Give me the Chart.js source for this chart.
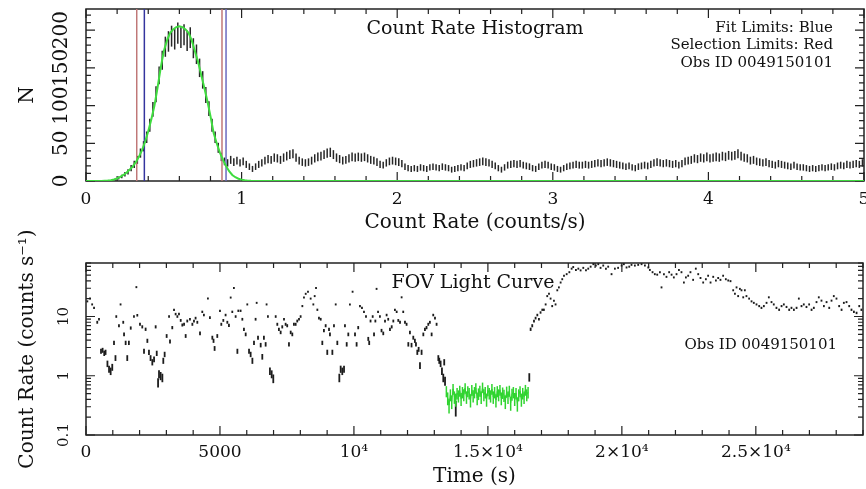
<!DOCTYPE html>
<html>
<head>
<meta charset="utf-8">
<script src="https://cdn.jsdelivr.net/npm/chart.js@4/dist/chart.umd.min.js"></script>
<style>
  html, body { margin: 0; padding: 0; background: #fff; }
  #wrap { position: relative; width: 866px; height: 489px; }
  #wrap canvas { position: absolute; left: 0; top: 0; }
</style>
</head>
<body>
<div id="wrap">
  <canvas id="hist" width="866" height="489"></canvas>
  <canvas id="lc" width="866" height="489"></canvas>
</div>
<script>
// ---------------- Count-rate histogram ----------------
const histBinStart = 0;
const histBinWidth = 0.02;          // counts/s per bin
const histCounts = [
  0,0,0,0,0,0,0,0,1,2,
  4,6,9,12,17,22,28,37,46,58,
  74,95,115,140,160,178,185,192,188,196,
  190,194,186,190,176,168,150,134,114,96,
  74,58,44,32,26,24,28,25,27,24,
  26,22,19,16,19,22,24,27,29,28,
  31,30,28,31,33,35,36,31,27,25,
  24,25,27,30,32,33,35,37,38,35,
  31,29,27,28,30,32,31,32,31,32,
  30,28,27,25,22,21,24,26,27,26,
  25,23,19,17,16,17,16,18,17,16,
  18,19,18,17,19,18,17,15,16,17,
  18,17,20,22,23,24,25,26,25,24,
  22,20,17,15,18,21,22,23,22,23,
  21,20,19,17,16,19,21,22,21,19,
  18,16,15,17,19,20,21,22,21,21,
  22,21,22,23,24,23,24,25,24,23,
  22,21,20,19,20,18,17,19,20,21,
  20,22,24,25,24,23,24,23,22,23,
  21,23,26,27,28,30,29,31,30,32,
  30,31,32,31,33,32,34,33,34,36,
  33,31,30,27,28,26,25,24,25,23,
  22,21,23,22,21,20,19,21,19,18,
  18,17,16,17,16,17,18,17,18,19,
  18,20,21,20,22,21,22,23,22,24
];

// Gaussian fit to the quiescent peak
const fitRate = [
  0, 0.10,0.12,0.14,0.16,0.18,0.20,0.22,0.24,0.26,0.28,
  0.30,0.32,0.34,0.36,0.38,0.40,0.42,0.44,0.46,0.48,
  0.50,0.52,0.54,0.56,0.58,0.60,0.62,0.64,0.66,0.68,
  0.70,0.72,0.74,0.76,0.78,0.80,0.82,0.84,0.86,0.88,
  0.90,0.92,0.94,0.96,0.98,1.00,1.02,1.04,1.06,1.08, 5
];
const fitCounts = [
  0, 0,0.3,0.6,1,2,3.5,5.5,8,11,15,
  19,25,32,41,52,66,82,100,124,150,
  172,186,196,201,204,205,204,201,196,186,
  172,158,141,124,106,86,64,50,38,28,
  20,13,8,5,3,1.8,1,0.5,0.2,0, 0
];

const fitLimits = [0.375, 0.900];
const selectionLimits = [0.326, 0.874];
const histXTicks = [0, 1, 2, 3, 4, 5];
const histYTicks = [0, 50, 100, 150, 200];
const histYMax = 228;

// ---------------- FOV light curve ----------------
const lcBinSeconds = 40;
const lcTime = [
  50,150,230,300,420,485,560,620,680,730,
  800,860,920,980,1045,1100,1130,1230,1290,1390,
  1420,1480,1540,1600,1670,1790,1880,1915,2015,2100,
  2165,2225,2290,2350,2410,2475,2540,2600,2640,2690,
  2725,2785,2850,2885,2935,3010,3100,3135,3220,3285,
  3345,3410,3470,3535,3595,3660,3720,3780,3880,3970,
  4030,4090,4155,4255,4340,4400,4550,4625,4715,4760,
  4800,4900,5000,5050,5125,5210,5275,5335,5400,5460,
  5520,5585,5650,5685,5770,5835,5895,5960,6020,6085,
  6145,6210,6270,6330,6370,6420,6520,6580,6640,6705,
  6740,6790,6865,6930,6990,7080,7140,7200,7265,7325,
  7390,7450,7510,7575,7640,7700,7760,7825,7885,7950,
  8010,8075,8135,8200,8285,8385,8485,8535,8585,8635,
  8695,8760,8820,8880,8945,9005,9070,9105,9195,9255,
  9320,9380,9455,9505,9565,9630,9665,9730,9790,9850,
  9950,10040,10100,10160,10225,10300,10375,10450,10535,10570,
  10620,10700,10750,10800,10845,10900,10970,11030,11095,11160,
  11220,11280,11345,11410,11470,11530,11595,11655,11720,11780,
  11840,11905,11965,12030,12090,12150,12215,12275,12315,12365,
  12415,12465,12525,12590,12650,12710,12775,12835,12900,12960,
  13025,13085,13150,13185,13235,13285,13335,13370,13400,13800,
  16545,16595,16655,16720,16780,16845,16905,16965,17030,17090,
  17155,17215,17280,17340,17400,17465,17525,17590,17650,17715,
  17775,17840,17940,18040,18125,18185,18285,18375,18460,18560,
  18660,18745,18835,18935,19030,19120,19205,19305,19405,19490,
  19615,19740,19860,19990,20075,20175,20275,20360,20485,20610,
  20735,20860,20985,21045,21145,21230,21320,21420,21480,21570,
  21665,21765,21855,21940,22040,22130,22225,22315,22390,22475,
  22560,22660,22760,22850,22935,23035,23135,23220,23310,23410,
  23510,23595,23680,23780,23880,23970,24055,24155,24220,24280,
  24340,24405,24465,24530,24590,24650,24750,24840,24925,25025,
  25125,25210,25300,25400,25485,25585,25670,25770,25870,25960,
  26045,26145,26245,26330,26420,26520,26605,26705,26790,26890,
  26990,27080,27165,27265,27350,27450,27540,27640,27740,27825,
  27910,28010,28110,28200,28285,28385,28485,28570,28660,28760,
  28860,28940
];
const lcRate = [
  18,20,16,14,8,9,2.6,2.7,2.4,2.5,
  1.6,1.3,1.2,1.4,3.6,2.0,10,7,16,8,
  5,3.6,2,3.6,6.4,10,31,10.5,7.4,6.7,
  2.6,6.1,3.9,2.5,2.0,1.7,1.9,6.7,2.4,0.77,
  1.07,1.0,0.93,1.8,2.3,4.7,10,3.8,6.5,13,
  11,10,11,8.6,7.2,7.4,4.7,8.4,9,7.4,
  8.4,9.4,8,5.2,12,10.6,20,9.6,4.4,3.9,
  2.9,4.7,12.5,7.4,8.6,10.6,8,7.1,20.8,12,
  30,10,2.6,12.5,12.5,9,6.1,5,16,2.6,
  2.3,1.8,3.6,9,17,4.4,3.3,2.1,4.4,3.4,
  16,10,1.2,1.07,0.9,10,7.4,6.1,5.4,6.7,
  9,7.4,7,3.4,5.4,5,7.4,7.4,8.4,9,
  10,15,20.8,24,26,20,16,22,30,13,
  9.4,9,3.6,5.8,7,2.5,6.1,5,2.5,7,
  16,3.6,0.93,1.3,1.2,1.3,7,3.4,5,16,
  26,5,3.4,6.5,15,14,12,10,4.2,3.6,
  8.4,10,5,8.4,29,12,10,5.8,5.2,8.4,
  10.6,9,6.1,6.7,8.4,13,12,8.6,8,21,
  12,8,7.4,3.4,5.4,3.3,4.4,3.9,3.4,2.5,
  2.8,1.5,2.5,5,6.1,6.5,7.4,8,5,10.6,
  9.4,7.4,2.0,1.8,1.6,1.2,0.93,1.7,0.82,0.29,
  0.95,6.1,7,8.4,9.4,10.6,9,11.7,13,13,
  16,22,24,20,15,18.5,16,27.5,30.7,37,
  42,48,51,55,63,67,60,63,59,65,
  59,63,68,75,71,75,65,71,63,68,
  51,63,65,71,75,66,68,73,71,73,
  75,71,66,60,55,51,50,55,30.7,51,
  46,55,50,45,51,60,55,37,45,48,
  55,41,63,51,44,37,42,48,37,46,
  40,44,41,48,42,40,39,27.5,24,30.7,
  22,29,27.5,21,27.5,22,20,18,17,16,
  15,14,15,17,21,17.5,16,14,13,15,
  16,14.5,13,14,13,14,20,15,16,14.5,
  16,13,14,17.5,21,18.5,15,17.5,14,18.5,
  22,20,15,13,17,17.5,15,13,12,11.5,
  15,13
];

// low, steady interval (highlighted in green)
const quietTime = [
  13450,13500,13550,13600,13650,13700,13750,13800,13850,13900,
  13950,14000,14050,14100,14150,14200,14250,14300,14350,14400,
  14450,14500,14550,14600,14650,14700,14750,14800,14850,14900,
  14950,15000,15050,15100,15150,15200,15250,15300,15350,15400,
  15450,15500,15550,15600,15650,15700,15750,15800,15850,15900,
  15950,16000,16050,16100,16150,16200,16250,16300,16350,16400,
  16450,16500
];
const quietRate = [
  0.55,0.42,0.32,0.48,0.37,0.60,0.44,0.40,0.51,0.46,
  0.56,0.41,0.53,0.48,0.62,0.44,0.55,0.51,0.39,0.58,
  0.46,0.53,0.62,0.42,0.50,0.56,0.44,0.64,0.48,0.53,
  0.40,0.57,0.51,0.46,0.60,0.44,0.53,0.39,0.55,0.48,
  0.58,0.42,0.52,0.47,0.37,0.54,0.44,0.56,0.35,0.49,
  0.53,0.41,0.51,0.34,0.48,0.55,0.40,0.51,0.44,0.58,
  0.48,0.53
];

const lcXTicks = [0, 5000, 10000, 15000, 20000, 25000];
const lcXTickLabels = ['0', '5000', '10\u2074', '1.5\u00d710\u2074', '2\u00d710\u2074', '2.5\u00d710\u2074'];
const lcYTicks = [0.1, 1, 10];
const lcYTickLabels = ['0.1', '1', '10'];
const lcXMax = 29000;
const lcYMin = 0.1, lcYMax = 80;

// ---------------- drawing ----------------
const FONT = 'DejaVu Serif';
const INK = '#111';
Chart.defaults.font.family = FONT;
Chart.defaults.color = INK;

function steps(a, b, s) {
  const out = [];
  for (let v = a; v <= b + 1e-9; v += s) out.push(+v.toFixed(6));
  return out;
}

// boxed frame with inward major / minor tick marks on all four sides
function framePlugin(spec) {
  return {
    id: 'frame',
    beforeDatasetsDraw(chart) {
      const { ctx, chartArea: a } = chart;
      const xs = chart.scales.x, ys = chart.scales.y;
      ctx.save();
      ctx.strokeStyle = '#222';
      ctx.lineWidth = 1.2;
      ctx.beginPath();
      const mark = (scale, vals, len) => {
        vals.forEach(v => {
          const p = scale.getPixelForValue(v);
          if (scale.isHorizontal()) {
            if (p < a.left - 0.5 || p > a.right + 0.5) return;
            ctx.moveTo(p, a.bottom); ctx.lineTo(p, a.bottom - len);
            ctx.moveTo(p, a.top); ctx.lineTo(p, a.top + len);
          } else {
            if (p < a.top - 0.5 || p > a.bottom + 0.5) return;
            ctx.moveTo(a.left, p); ctx.lineTo(a.left + len, p);
            ctx.moveTo(a.right, p); ctx.lineTo(a.right - len, p);
          }
        });
      };
      mark(xs, spec.xMajor, 9); mark(xs, spec.xMinor, 5);
      mark(ys, spec.yMajor, 9); mark(ys, spec.yMinor, 5);
      ctx.stroke();
      ctx.lineWidth = 1.5;
      ctx.strokeRect(a.left, a.top, a.right - a.left, a.bottom - a.top);
      ctx.restore();
    }
  };
}

// text labels inside the plot frame
function notesPlugin(items) {
  return {
    id: 'notes',
    afterDatasetsDraw(chart) {
      const ctx = chart.ctx;
      ctx.save();
      ctx.fillStyle = INK;
      ctx.textBaseline = 'alphabetic';
      items.forEach(n => {
        ctx.font = n.size + 'px "' + FONT + '"';
        ctx.textAlign = n.align;
        ctx.fillText(n.text, n.x, n.y);
      });
      ctx.restore();
    }
  };
}

const baseOptions = {
  responsive: false,
  animation: false,
  devicePixelRatio: 1,
  events: [],
  plugins: { legend: { display: false }, tooltip: { enabled: false } }
};

// ---- histogram panel ----
const histBars = [];
histCounts.forEach((n, i) => {
  if (n <= 0) return;
  const e = Math.sqrt(n);
  histBars.push({ x: histBinStart + (i + 0.5) * histBinWidth, y: [Math.max(n - e, 0), n + e] });
});
const fitPoints = fitRate.map((r, i) => ({ x: r, y: fitCounts[i] }));
const vline = v => [{ x: v, y: 0 }, { x: v, y: histYMax }];

const histYMinor = steps(0, 220, 10);
new Chart(document.getElementById('hist'), {
  type: 'bar',
  data: {
    datasets: [
      { type: 'line', data: fitPoints, borderColor: '#3fdc3f', borderWidth: 2, pointRadius: 0, tension: 0, order: 0 },
      { type: 'line', data: vline(selectionLimits[0]), borderColor: '#c07878', borderWidth: 1.5, pointRadius: 0, order: 1 },
      { type: 'line', data: vline(selectionLimits[1]), borderColor: '#c07878', borderWidth: 1.5, pointRadius: 0, order: 1 },
      { type: 'line', data: vline(fitLimits[0]), borderColor: '#34349e', borderWidth: 1.5, pointRadius: 0, order: 1 },
      { type: 'line', data: vline(fitLimits[1]), borderColor: '#6a6ac0', borderWidth: 1.5, pointRadius: 0, order: 1 },
      { type: 'bar', data: histBars, backgroundColor: '#262626', barThickness: 1.5, grouped: false, inflateAmount: 0, order: 2 }
    ]
  },
  options: {
    ...baseOptions,
    layout: { padding: { left: 0, top: 9, right: 2, bottom: 248 } },
    scales: {
      x: {
        type: 'linear', min: 0, max: 5, offset: false,
        grid: { display: false, drawTicks: false }, border: { display: false },
        afterBuildTicks: s => { s.ticks = histXTicks.map(v => ({ value: v })); },
        afterFit: s => { s.height = 60; s.paddingLeft = 0; s.paddingRight = 0; },
        ticks: { autoSkip: false, maxRotation: 0, padding: 8, font: { size: 17 }, color: INK, callback: v => String(v) },
        title: { display: true, text: 'Count Rate (counts/s)', font: { size: 20 }, color: INK, padding: { top: 0, bottom: 6 } }
      },
      y: {
        type: 'linear', min: 0, max: histYMax,
        grid: { display: false, drawTicks: false }, border: { display: false },
        afterBuildTicks: s => { s.ticks = histYTicks.map(v => ({ value: v })); },
        afterFit: s => { s.width = 86; s.paddingTop = 0; s.paddingBottom = 0; },
        ticks: { autoSkip: false, minRotation: 90, maxRotation: 90, crossAlign: 'center', padding: 5, font: { size: 20 }, color: INK, callback: v => String(v) },
        title: { display: true, text: 'N', font: { size: 20 }, color: INK, padding: { top: 16, bottom: 0 } }
      }
    }
  },
  plugins: [
    framePlugin({ xMajor: histXTicks, xMinor: steps(0, 5, 0.2), yMajor: histYTicks, yMinor: histYMinor }),
    notesPlugin([
      { text: 'Count Rate Histogram', x: 475, y: 34, size: 19, align: 'center' },
      { text: 'Fit Limits: Blue', x: 833, y: 32, size: 15, align: 'right' },
      { text: 'Selection Limits: Red', x: 833, y: 49, size: 15, align: 'right' },
      { text: 'Obs ID 0049150101', x: 833, y: 67, size: 15, align: 'right' }
    ])
  ]
});

// ---- light-curve panel ----
const lcErr = r => Math.sqrt(r / lcBinSeconds);
const lcBars = lcTime.map((t, i) => { const r = lcRate[i], e = lcErr(r); return { x: t, y: [r - e, r + e] }; });
const quietBars = quietTime.map((t, i) => { const r = quietRate[i], e = lcErr(r); return { x: t, y: [r - e, r + e] }; });
const quietLine = quietTime.map((t, i) => ({ x: t, y: quietRate[i] }));

const lcYMinor = [];
[0.1, 1, 10].forEach(d => { for (let k = 2; k <= 9; k++) lcYMinor.push(+(d * k).toFixed(4)); });

new Chart(document.getElementById('lc'), {
  type: 'bar',
  data: {
    datasets: [
      { type: 'line', data: quietLine, borderColor: '#2fd42f', borderWidth: 1, pointRadius: 0, tension: 0, order: 0 },
      { type: 'bar', data: quietBars, backgroundColor: '#2fd42f', barThickness: 1.5, grouped: false, inflateAmount: 0, minBarLength: 2, order: 1 },
      { type: 'bar', data: lcBars, backgroundColor: '#1c1c1c', barThickness: 1.8, grouped: false, inflateAmount: 0, minBarLength: 2, order: 2 }
    ]
  },
  options: {
    ...baseOptions,
    layout: { padding: { left: 0, top: 263, right: 3, bottom: 0 } },
    scales: {
      x: {
        type: 'linear', min: 0, max: lcXMax, offset: false,
        grid: { display: false, drawTicks: false }, border: { display: false },
        afterBuildTicks: s => { s.ticks = lcXTicks.map(v => ({ value: v })); },
        afterFit: s => { s.height = 54; s.paddingLeft = 0; s.paddingRight = 0; },
        ticks: { autoSkip: false, maxRotation: 0, padding: 7, font: { size: 17 }, color: INK, callback: (v, i) => lcXTickLabels[i] },
        title: { display: true, text: 'Time (s)', font: { size: 20 }, color: INK, padding: { top: 0, bottom: 0 } }
      },
      y: {
        type: 'logarithmic', min: lcYMin, max: lcYMax,
        grid: { display: false, drawTicks: false }, border: { display: false },
        afterBuildTicks: s => { s.ticks = lcYTicks.map(v => ({ value: v })); },
        afterFit: s => { s.width = 86; s.paddingTop = 0; s.paddingBottom = 0; },
        ticks: { autoSkip: false, minRotation: 90, maxRotation: 90, crossAlign: 'center', padding: 10, font: { size: 15 }, color: INK, callback: (v, i) => lcYTickLabels[i] },
        title: { display: true, text: 'Count Rate (counts s\u207b\u00b9)', font: { size: 20 }, color: INK, padding: { top: 16, bottom: 0 } }
      }
    }
  },
  plugins: [
    framePlugin({ xMajor: lcXTicks, xMinor: steps(0, lcXMax, 1000), yMajor: lcYTicks, yMinor: lcYMinor }),
    notesPlugin([
      { text: 'FOV Light Curve', x: 473, y: 288, size: 19, align: 'center' },
      { text: 'Obs ID 0049150101', x: 837, y: 349, size: 15, align: 'right' }
    ])
  ]
});
</script>
</body>
</html>
